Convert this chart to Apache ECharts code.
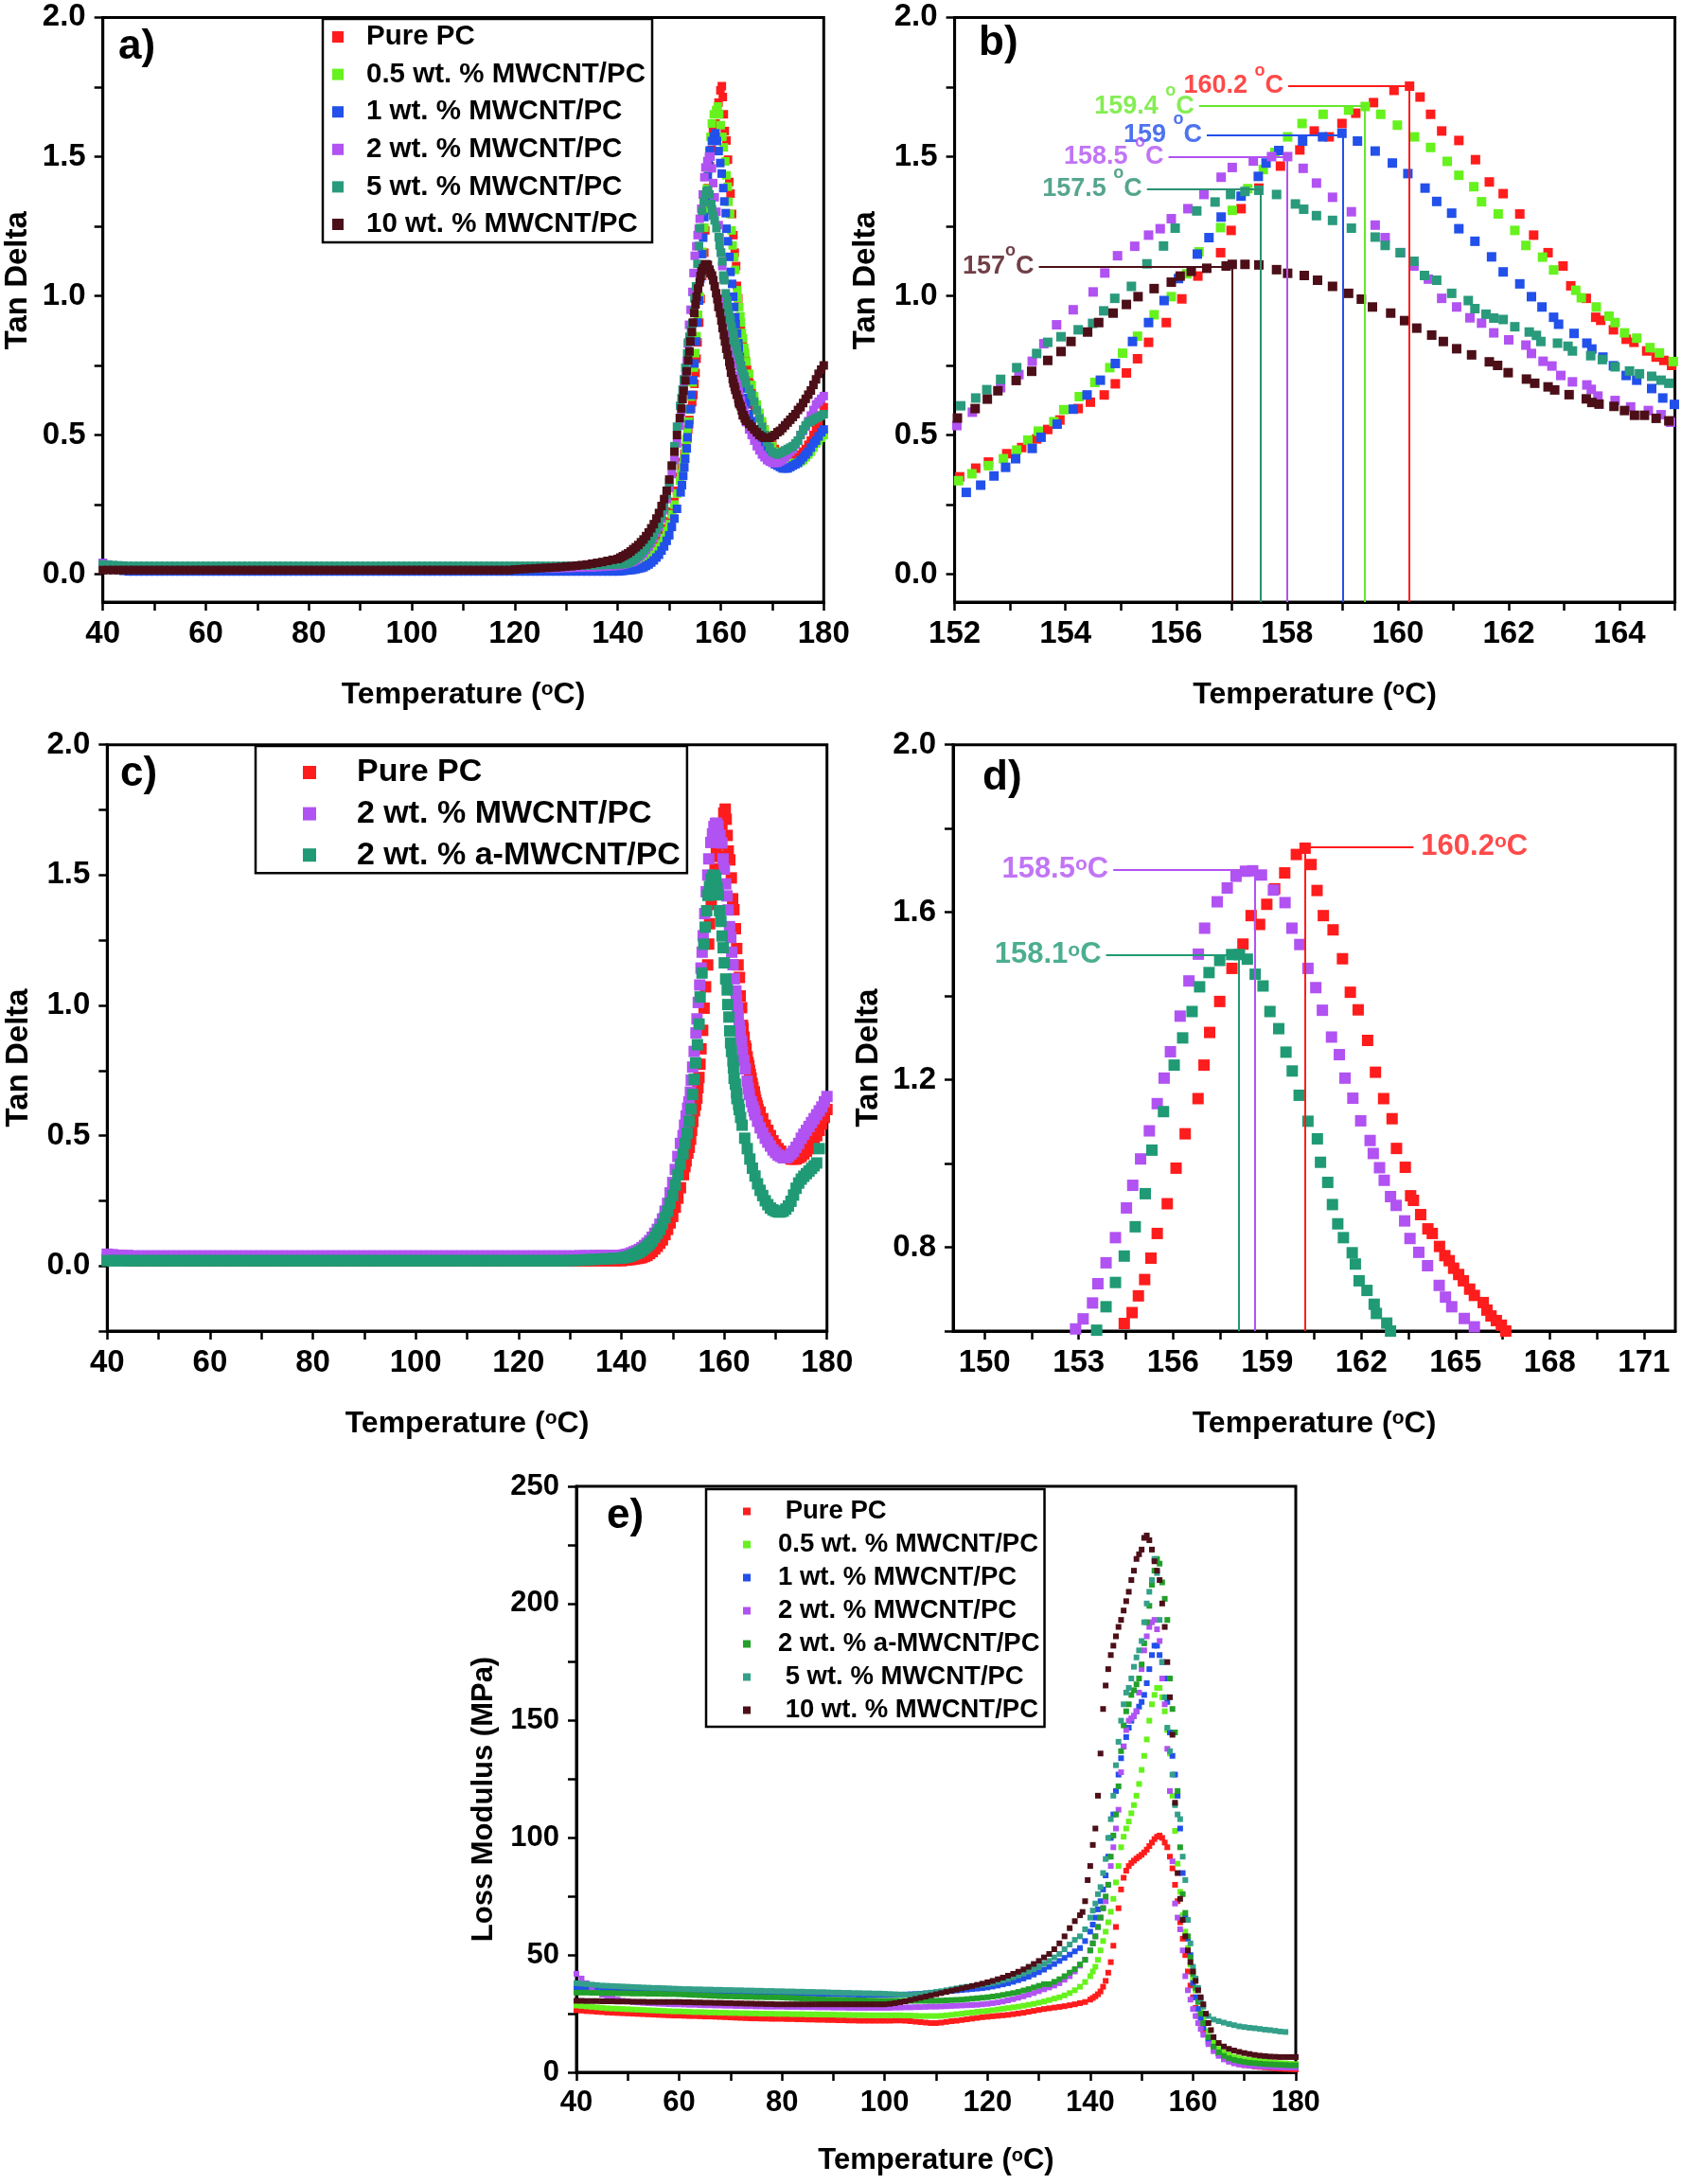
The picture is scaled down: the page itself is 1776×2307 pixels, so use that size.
<!DOCTYPE html>
<html><head><meta charset="utf-8">
<script src="https://cdn.jsdelivr.net/npm/echarts@6/dist/echarts.min.js"></script>
<style>html,body{margin:0;padding:0;background:#fff}#c{width:1776px;height:2307px}</style>
</head><body><div id="c"></div>
<script>
// ---------------- DATA ----------------
// Temperature grids (degC)
const tFlat = [
40,41,42,43,44,45,46,47,48,49,
50,51,52,53,54,55,56,57,58,59,
60,61,62,63,64,65,66,67,68,69,
70,71,72,73,74,75,76,77,78,79,
80,81,82,83,84,85,86,87,88,89,
90,91,92,93,94,95,96,97,98,99,
100,101,102,103,104,105,106,107,108,109,
110,111,112,113,114,115,116,117,118,119,
120,121,122,123,124,125,126,127,128,129,
130,131,132,133,134,135,136,137,138,139];
const tRise = [140,140.5,141,141.5,142,142.5,143,143.5,144,144.5,145,145.5,146,146.5,147,147.5,148,148.5,149,149.5,150,150.5,151,151.5];
const tTailA = [165.5,166,166.5,167,167.5,168,168.5,169,169.5,170,170.5,171,171.5,172,172.5,173,173.5,174,174.5,175,175.5,176,176.5,177,177.5,178,178.5,179,179.5,180];
const tTailRed = [167,167.5,168,168.5,169,169.5,170,170.5,171,171.5,172,172.5,173,173.5,174,174.5,175,175.5,176,176.5,177,177.5,178,178.5,179,179.5,180];
const tTailPC = [166,166.5,167,167.5,168,168.5,169,169.5,170,170.5,171,171.5,172,172.5,173,173.5,174,174.5,175,175.5,176,176.5,177,177.5,178,178.5,179,179.5,180];

// Tan delta, flat region 40-139
const redFlat = [
0.025,0.024,0.023,0.022,0.021,0.02,0.02,0.02,0.02,0.02,
0.02,0.02,0.02,0.02,0.02,0.02,0.02,0.02,0.02,0.02,
0.02,0.02,0.02,0.02,0.02,0.02,0.02,0.02,0.02,0.02,
0.02,0.02,0.02,0.02,0.02,0.02,0.02,0.02,0.02,0.02,
0.02,0.02,0.02,0.02,0.02,0.02,0.02,0.02,0.02,0.02,
0.02,0.02,0.02,0.02,0.02,0.02,0.02,0.02,0.02,0.02,
0.02,0.02,0.02,0.02,0.02,0.02,0.02,0.02,0.02,0.02,
0.02,0.02,0.02,0.02,0.02,0.02,0.02,0.02,0.02,0.02,
0.02,0.02,0.02,0.02,0.02,0.02,0.02,0.02,0.02,0.02,
0.02,0.02,0.02,0.02,0.02,0.02,0.02,0.02,0.02,0.02];
const greenFlat = [
0.03,0.029,0.028,0.027,0.026,0.025,0.025,0.025,0.025,0.025,
0.025,0.025,0.025,0.025,0.025,0.025,0.025,0.025,0.025,0.025,
0.025,0.025,0.025,0.025,0.025,0.025,0.025,0.025,0.025,0.025,
0.025,0.025,0.025,0.025,0.025,0.025,0.025,0.025,0.025,0.025,
0.025,0.025,0.025,0.025,0.025,0.025,0.025,0.025,0.025,0.025,
0.025,0.025,0.025,0.025,0.025,0.025,0.025,0.025,0.025,0.025,
0.025,0.025,0.025,0.025,0.025,0.025,0.025,0.025,0.025,0.025,
0.025,0.025,0.025,0.025,0.025,0.025,0.025,0.025,0.025,0.025,
0.025,0.025,0.025,0.025,0.025,0.025,0.025,0.025,0.025,0.025,
0.025,0.025,0.025,0.025,0.025,0.025,0.025,0.025,0.025,0.025];
const blueFlat = [
0.04,0.03,0.022,0.016,0.012,0.01,0.01,0.01,0.01,0.01,
0.01,0.01,0.01,0.01,0.01,0.01,0.01,0.01,0.01,0.01,
0.01,0.01,0.01,0.01,0.01,0.01,0.01,0.01,0.01,0.01,
0.01,0.01,0.01,0.01,0.01,0.01,0.01,0.01,0.01,0.01,
0.01,0.01,0.01,0.01,0.01,0.01,0.01,0.01,0.01,0.01,
0.01,0.01,0.01,0.01,0.01,0.01,0.01,0.01,0.01,0.01,
0.01,0.01,0.01,0.01,0.01,0.01,0.01,0.01,0.01,0.01,
0.01,0.01,0.01,0.01,0.01,0.01,0.01,0.01,0.01,0.01,
0.01,0.01,0.01,0.01,0.01,0.01,0.01,0.01,0.01,0.01,
0.01,0.01,0.01,0.01,0.01,0.01,0.01,0.01,0.01,0.01];
const purpleFlat = [
0.04,0.035,0.03,0.027,0.025,0.022,0.022,0.022,0.022,0.022,
0.022,0.022,0.022,0.022,0.022,0.022,0.022,0.022,0.022,0.022,
0.022,0.022,0.022,0.022,0.022,0.022,0.022,0.022,0.022,0.022,
0.022,0.022,0.022,0.022,0.022,0.022,0.022,0.022,0.022,0.022,
0.022,0.022,0.022,0.022,0.022,0.022,0.022,0.022,0.022,0.022,
0.022,0.022,0.022,0.022,0.022,0.022,0.022,0.022,0.022,0.022,
0.022,0.022,0.022,0.022,0.022,0.022,0.022,0.022,0.022,0.022,
0.022,0.022,0.022,0.022,0.022,0.022,0.022,0.022,0.022,0.022,
0.022,0.022,0.022,0.022,0.022,0.022,0.022,0.022,0.022,0.022,
0.023,0.023,0.024,0.024,0.025,0.025,0.026,0.027,0.028,0.029];
const tealFlat = [
0.035,0.034,0.033,0.032,0.031,0.03,0.03,0.03,0.03,0.03,
0.03,0.03,0.03,0.03,0.03,0.03,0.03,0.03,0.03,0.03,
0.03,0.03,0.03,0.03,0.03,0.03,0.03,0.03,0.03,0.03,
0.03,0.03,0.03,0.03,0.03,0.03,0.03,0.03,0.03,0.03,
0.03,0.03,0.03,0.03,0.03,0.03,0.03,0.03,0.03,0.03,
0.03,0.03,0.03,0.03,0.03,0.03,0.03,0.03,0.03,0.03,
0.03,0.03,0.03,0.03,0.03,0.03,0.03,0.03,0.03,0.03,
0.03,0.03,0.03,0.03,0.03,0.03,0.03,0.03,0.03,0.03,
0.03,0.03,0.03,0.03,0.03,0.03,0.03,0.03,0.03,0.03,
0.03,0.03,0.031,0.031,0.032,0.032,0.033,0.033,0.034,0.034];
const brownFlat = [
0.015,0.015,0.015,0.015,0.015,0.015,0.015,0.015,0.015,0.015,
0.015,0.015,0.015,0.015,0.015,0.015,0.015,0.015,0.015,0.015,
0.015,0.015,0.015,0.015,0.015,0.015,0.015,0.015,0.015,0.015,
0.015,0.015,0.015,0.015,0.015,0.015,0.015,0.015,0.015,0.015,
0.015,0.015,0.015,0.015,0.015,0.015,0.015,0.015,0.015,0.015,
0.015,0.015,0.015,0.015,0.015,0.015,0.015,0.015,0.015,0.015,
0.015,0.015,0.015,0.015,0.015,0.015,0.015,0.015,0.015,0.015,
0.015,0.015,0.015,0.015,0.015,0.015,0.015,0.015,0.015,0.015,
0.017,0.018,0.019,0.02,0.021,0.022,0.023,0.024,0.025,0.026,
0.028,0.029,0.031,0.033,0.035,0.038,0.041,0.044,0.048,0.052];
const purpleCFlat = [
0.045,0.043,0.041,0.04,0.04,0.038,0.038,0.038,0.038,0.038,
0.038,0.038,0.038,0.038,0.038,0.038,0.038,0.038,0.038,0.038,
0.038,0.038,0.038,0.038,0.038,0.038,0.038,0.038,0.038,0.038,
0.038,0.038,0.038,0.038,0.038,0.038,0.038,0.038,0.038,0.038,
0.038,0.038,0.038,0.038,0.038,0.038,0.038,0.038,0.038,0.038,
0.038,0.038,0.038,0.038,0.038,0.038,0.038,0.038,0.038,0.038,
0.038,0.038,0.038,0.038,0.038,0.038,0.038,0.038,0.038,0.038,
0.038,0.038,0.038,0.038,0.038,0.038,0.038,0.038,0.038,0.038,
0.038,0.038,0.038,0.038,0.038,0.038,0.038,0.038,0.038,0.038,
0.038,0.038,0.039,0.039,0.039,0.04,0.04,0.04,0.04,0.04];
const tealCFlat = [
0.02,0.02,0.02,0.02,0.02,0.02,0.02,0.02,0.02,0.02,
0.02,0.02,0.02,0.02,0.02,0.02,0.02,0.02,0.02,0.02,
0.02,0.02,0.02,0.02,0.02,0.02,0.02,0.02,0.02,0.02,
0.02,0.02,0.02,0.02,0.02,0.02,0.02,0.02,0.02,0.02,
0.02,0.02,0.02,0.02,0.02,0.02,0.02,0.02,0.02,0.02,
0.02,0.02,0.02,0.02,0.02,0.02,0.02,0.02,0.02,0.02,
0.02,0.02,0.02,0.02,0.02,0.02,0.02,0.02,0.02,0.02,
0.02,0.02,0.02,0.02,0.02,0.02,0.02,0.02,0.02,0.02,
0.02,0.02,0.02,0.02,0.02,0.02,0.02,0.02,0.02,0.02,
0.021,0.021,0.022,0.023,0.024,0.025,0.026,0.027,0.028,0.029];

// Tan delta, onset 140-151.5
const redRise = [0.02,0.022,0.023,0.024,0.025,0.027,0.028,0.03,0.032,0.036,0.04,0.047,0.055,0.065,0.075,0.087,0.1,0.12,0.14,0.165,0.19,0.225,0.26,0.3];
const greenRise = [0.025,0.025,0.025,0.026,0.026,0.027,0.028,0.03,0.032,0.035,0.038,0.044,0.05,0.06,0.07,0.082,0.095,0.11,0.13,0.155,0.18,0.215,0.25,0.29];
const blueRise = [0.01,0.011,0.012,0.013,0.014,0.015,0.016,0.018,0.02,0.022,0.025,0.03,0.035,0.042,0.05,0.06,0.07,0.085,0.1,0.12,0.14,0.17,0.2,0.235];
const purpleRise = [0.03,0.032,0.034,0.037,0.04,0.042,0.045,0.05,0.06,0.067,0.075,0.087,0.1,0.115,0.13,0.15,0.17,0.2,0.23,0.27,0.31,0.36,0.41,0.47];
const tealRise = [0.035,0.036,0.037,0.038,0.04,0.045,0.05,0.057,0.065,0.075,0.085,0.097,0.11,0.125,0.14,0.16,0.18,0.21,0.24,0.285,0.33,0.39,0.46,0.53];
const brownRise = [0.055,0.06,0.065,0.07,0.075,0.082,0.09,0.097,0.105,0.115,0.125,0.137,0.15,0.165,0.18,0.2,0.22,0.245,0.27,0.3,0.34,0.39,0.44,0.5];
const purpleCRise = [0.04,0.042,0.044,0.046,0.05,0.054,0.058,0.063,0.07,0.078,0.087,0.097,0.11,0.125,0.14,0.16,0.18,0.21,0.24,0.28,0.32,0.37,0.42,0.47];
const tealCRise = [0.03,0.032,0.034,0.036,0.04,0.044,0.048,0.053,0.06,0.067,0.075,0.085,0.095,0.11,0.125,0.14,0.16,0.185,0.21,0.24,0.27,0.31,0.35,0.39];

// Tan delta, peak region [T, value]
const redPeak = [[152.09,0.350],[152.38,0.381],[152.61,0.403],[152.94,0.433],[153.21,0.455],[153.48,0.486],[153.68,0.52],[153.9,0.554],[154.23,0.595],[154.45,0.618],[154.7,0.644],[154.9,0.684],[155.1,0.723],[155.3,0.774],[155.5,0.833],[155.82,0.904],[156.1,0.989],[156.39,1.071],[156.8,1.155],[156.99,1.235],[157.17,1.313],[157.49,1.387],[157.88,1.466],[158.23,1.524],[158.49,1.592],[158.76,1.571],[158.99,1.619],[159.24,1.656],[159.56,1.694],[159.93,1.738],[160.21,1.753],[160.4,1.714],[160.59,1.652],[160.79,1.592],[161.1,1.558],[161.4,1.489],[161.65,1.409],[161.9,1.367],[162.2,1.294],[162.45,1.218],[162.71,1.155],[162.98,1.107],[163.12,1.036],[163.4,0.991],[163.57,0.923],[163.66,0.912],[163.89,0.878],[164.12,0.844],[164.26,0.833],[164.49,0.802],[164.66,0.78],[164.8,0.768],[164.94,0.75],[165.1,0.735],[165.25,0.72],[165.45,0.7],[165.6,0.685],[165.88,0.668],[166.0,0.65],[166.13,0.636],[166.3,0.625],[166.46,0.614],[166.6,0.6]];
const greenPeak = [[152.07,0.336],[152.31,0.361],[152.61,0.39],[152.88,0.415],[153.12,0.446],[153.32,0.482],[153.51,0.514],[153.79,0.548],[153.97,0.591],[154.25,0.638],[154.53,0.689],[154.8,0.742],[155.03,0.794],[155.3,0.855],[155.6,0.932],[155.91,0.997],[156.19,1.079],[156.41,1.158],[156.8,1.245],[157.01,1.307],[157.29,1.385],[157.57,1.454],[157.78,1.515],[158.01,1.571],[158.27,1.619],[158.65,1.652],[159.11,1.667],[159.41,1.68],[159.69,1.652],[159.99,1.613],[160.3,1.571],[160.59,1.533],[160.89,1.483],[161.1,1.433],[161.37,1.392],[161.51,1.338],[161.81,1.294],[162.11,1.235],[162.31,1.181],[162.61,1.139],[162.81,1.093],[163.21,1.02],[163.31,0.993],[163.58,0.96],[163.81,0.927],[163.92,0.904],[164.09,0.867],[164.31,0.848],[164.55,0.814],[164.72,0.795],[164.97,0.764]];
const bluePeak = [[152.21,0.294],[152.47,0.32],[152.71,0.353],[152.92,0.384],[153.1,0.415],[153.4,0.452],[153.56,0.492],[153.85,0.539],[154.14,0.593],[154.39,0.644],[154.63,0.697],[154.9,0.757],[155.21,0.836],[155.5,0.904],[155.78,0.983],[156.04,1.062],[156.38,1.15],[156.59,1.209],[156.81,1.283],[157.17,1.358],[157.48,1.429],[157.62,1.477],[157.85,1.522],[158.28,1.556],[158.64,1.571],[158.99,1.584],[159.27,1.556],[159.59,1.52],[159.9,1.477],[160.18,1.439],[160.49,1.387],[160.7,1.339],[160.97,1.297],[161.1,1.241],[161.39,1.196],[161.69,1.14],[161.9,1.086],[162.2,1.043],[162.41,0.997],[162.6,0.96],[162.81,0.923],[162.9,0.898],[163.18,0.865],[163.41,0.83],[163.5,0.809],[163.7,0.78],[163.89,0.749],[164.12,0.714],[164.31,0.697],[164.58,0.667],[164.78,0.633],[164.99,0.61]];
const purplePeak = [[152.04,0.534],[152.32,0.582],[152.83,0.67],[153.16,0.717],[153.4,0.765],[153.61,0.828],[153.84,0.896],[154.14,0.95],[154.5,1.014],[154.71,1.082],[154.94,1.144],[155.25,1.178],[155.5,1.218],[155.71,1.241],[155.91,1.277],[156.21,1.313],[156.5,1.364],[156.81,1.426],[157.01,1.461],[157.39,1.484],[157.72,1.5],[158.01,1.5],[158.29,1.458],[158.53,1.405],[158.82,1.354],[159.16,1.302],[159.59,1.254],[159.77,1.209],[160.05,1.155],[160.29,1.107],[160.55,1.06],[160.79,0.991],[161.06,0.96],[161.3,0.921],[161.51,0.902],[161.73,0.867],[162.0,0.842],[162.31,0.823],[162.41,0.793],[162.62,0.765],[162.78,0.748],[162.94,0.714],[163.15,0.691],[163.41,0.68],[163.49,0.664],[163.61,0.64],[163.92,0.624],[164.2,0.601],[164.52,0.588],[164.75,0.573],[164.92,0.546]];
const tealPeak = [[152.11,0.605],[152.38,0.633],[152.58,0.663],[152.83,0.7],[153.12,0.742],[153.48,0.793],[153.68,0.833],[153.92,0.853],[154.23,0.878],[154.49,0.901],[154.69,0.946],[154.89,0.991],[155.19,1.034],[155.47,1.115],[155.77,1.179],[155.98,1.243],[156.37,1.305],[156.7,1.337],[156.98,1.364],[157.24,1.375],[157.49,1.379],[157.81,1.364],[158.15,1.33],[158.3,1.311],[158.53,1.288],[158.82,1.271],[159.16,1.243],[159.59,1.211],[159.77,1.181],[160.04,1.155],[160.29,1.124],[160.48,1.073],[160.7,1.056],[160.97,1.009],[161.27,0.983],[161.39,0.954],[161.59,0.934],[161.73,0.92],[161.9,0.915],[162.11,0.889],[162.37,0.87],[162.5,0.858],[162.58,0.836],[162.88,0.83],[163.07,0.819],[163.15,0.802],[163.48,0.785],[163.69,0.771],[163.92,0.745],[164.18,0.73],[164.36,0.72],[164.58,0.711],[164.75,0.697],[164.89,0.686]];
const brownPeak = [[152.05,0.561],[152.37,0.595],[152.59,0.629],[152.78,0.659],[153.11,0.696],[153.39,0.729],[153.68,0.768],[153.92,0.8],[154.1,0.836],[154.4,0.87],[154.6,0.904],[154.86,0.938],[155.1,0.969],[155.31,0.997],[155.6,1.026],[155.91,1.049],[156.07,1.071],[156.27,1.088],[156.55,1.099],[156.9,1.107],[157.01,1.113],[157.24,1.113],[157.49,1.111],[157.81,1.094],[158.01,1.081],[158.31,1.073],[158.55,1.056],[158.82,1.034],[159.11,1.009],[159.34,0.988],[159.54,0.96],[159.87,0.938],[160.12,0.911],[160.34,0.884],[160.61,0.859],[160.82,0.836],[161.06,0.81],[161.33,0.788],[161.65,0.763],[161.8,0.75],[161.99,0.724],[162.32,0.701],[162.47,0.686],[162.71,0.673],[162.83,0.662],[163.09,0.645],[163.4,0.63],[163.5,0.617],[163.63,0.611],[163.9,0.603],[164.09,0.588],[164.27,0.571],[164.45,0.571],[164.66,0.56],[164.89,0.551]];
const purpleCPeak = [[152.0,0.5],[152.3,0.54],[152.6,0.575],[152.9,0.605],[153.14,0.629],[153.44,0.667],[153.61,0.713],[153.87,0.763],[154.17,0.823],[154.52,0.894],[154.72,0.948],[154.97,1.011],[155.25,1.078],[155.5,1.143],[155.72,1.204],[155.92,1.267],[156.23,1.352],[156.51,1.436],[156.81,1.5],[157.01,1.562],[157.41,1.625],[157.73,1.658],[158.01,1.686],[158.31,1.698],[158.54,1.699],[158.82,1.689],[159.2,1.653],[159.57,1.623],[159.79,1.562],[160.04,1.523],[160.3,1.466],[160.55,1.42],[160.76,1.366],[161.05,1.302],[161.3,1.26],[161.48,1.204],[161.73,1.156],[161.98,1.102],[162.28,1.055],[162.38,1.024],[162.58,0.99],[162.73,0.96],[162.93,0.921],[163.11,0.9],[163.38,0.863],[163.55,0.821],[163.83,0.788],[164.11,0.756],[164.48,0.709],[164.68,0.681],[164.88,0.658],[165.28,0.63],[165.6,0.61],[165.85,0.595]];
const tealCPeak = [[152.0,0.43],[152.4,0.47],[152.8,0.51],[153.2,0.555],[153.57,0.602],[153.87,0.658],[154.17,0.716],[154.45,0.779],[154.8,0.849],[155.12,0.928],[155.33,1.032],[155.7,1.124],[156.04,1.235],[156.31,1.3],[156.61,1.363],[156.85,1.422],[157.15,1.456],[157.49,1.485],[157.87,1.499],[158.12,1.499],[158.37,1.488],[158.62,1.452],[158.87,1.424],[159.09,1.363],[159.37,1.322],[159.6,1.266],[159.8,1.221],[160.02,1.163],[160.3,1.101],[160.6,1.059],[160.7,1.003],[160.93,0.955],[161.08,0.902],[161.25,0.856],[161.43,0.823],[161.71,0.787],[161.81,0.76],[161.93,0.72],[162.18,0.697],[162.41,0.664],[162.48,0.642],[162.81,0.619],[162.93,0.6]];

// Tan delta, tails after the peak
const redTail = [0.59,0.565,0.54,0.52,0.5,0.48,0.465,0.45,0.44,0.43,0.42,0.415,0.41,0.41,0.41,0.415,0.42,0.43,0.44,0.45,0.465,0.48,0.5,0.52,0.545,0.57,0.6];
const greenTail = [0.72,0.68,0.64,0.61,0.58,0.55,0.52,0.5,0.48,0.46,0.44,0.43,0.42,0.41,0.4,0.4,0.395,0.395,0.4,0.4,0.405,0.41,0.42,0.43,0.44,0.455,0.47,0.48,0.49,0.5];
const blueTail = [0.575,0.55,0.52,0.5,0.48,0.46,0.445,0.43,0.415,0.405,0.395,0.39,0.385,0.38,0.38,0.38,0.385,0.39,0.395,0.4,0.41,0.42,0.43,0.44,0.455,0.47,0.48,0.495,0.51,0.52];
const purpleTail = [0.52,0.5,0.48,0.46,0.445,0.43,0.42,0.41,0.405,0.4,0.4,0.4,0.405,0.41,0.42,0.43,0.44,0.45,0.465,0.48,0.5,0.515,0.53,0.55,0.57,0.59,0.61,0.62,0.63,0.64];
const tealTail = [0.665,0.645,0.62,0.59,0.56,0.53,0.5,0.475,0.455,0.44,0.435,0.43,0.435,0.44,0.445,0.45,0.455,0.46,0.47,0.48,0.5,0.52,0.535,0.545,0.55,0.555,0.56,0.565,0.57,0.575];
const brownTail = [0.54,0.53,0.52,0.51,0.5,0.495,0.49,0.49,0.49,0.495,0.5,0.51,0.515,0.525,0.535,0.545,0.555,0.565,0.575,0.59,0.6,0.615,0.63,0.645,0.66,0.68,0.7,0.72,0.735,0.75];
const purpleCTail = [0.58,0.555,0.53,0.51,0.49,0.475,0.46,0.445,0.435,0.425,0.42,0.415,0.415,0.42,0.43,0.44,0.455,0.47,0.49,0.505,0.52,0.535,0.55,0.565,0.58,0.595,0.61,0.63,0.65];
const tealCTail = [[163.2,0.57],[163.5,0.54],[164,0.49],[164.5,0.45],[165,0.41],[165.5,0.375],[166,0.345],[166.5,0.315],[167,0.29],[167.5,0.27],[168,0.25],[168.5,0.235],[169,0.222],[169.5,0.215],[170,0.21],[170.5,0.207],[171,0.207],[171.5,0.21],[172,0.218],[172.5,0.23],[173,0.248],[173.5,0.272],[174,0.298],[174.5,0.318],[175,0.333],[175.5,0.344],[176,0.354],[176.5,0.364],[177,0.374],[177.5,0.384],[178,0.395],[178.5,0.45]];

// Peak annotations (T of peak, tan delta, arrow tip T, text)
const annB = [
  {t:160.2, v:1.754, tip:158.02, txt:'160.2 ', key:'red'},
  {t:159.4, v:1.681, tip:156.41, txt:'159.4 ', key:'limeT'},
  {t:159.0, v:1.578, tip:156.55, txt:'159 ', key:'blue'},
  {t:158.0, v:1.499, tip:155.86, txt:'158.5 ', key:'purple'},
  {t:157.52, v:1.385, tip:155.47, txt:'157.5 ', key:'tealT'},
  {t:157.0, v:1.106, tip:153.52, txt:'157', key:'brown'}
];
const annD = [
  {t:160.2, v:1.756, tip:163.66, txt:'160.2', key:'red', dir:'right'},
  {t:158.6, v:1.702, tip:154.1, txt:'158.5', key:'purple', dir:'left'},
  {t:158.11, v:1.498, tip:153.87, txt:'158.1', key:'tealC', dir:'left'}
];

// Loss modulus (MPa), low region 40-131
const tFlatE = [
40,41,42,43,44,45,46,47,48,49,
50,51,52,53,54,55,56,57,58,59,
60,61,62,63,64,65,66,67,68,69,
70,71,72,73,74,75,76,77,78,79,
80,81,82,83,84,85,86,87,88,89,
90,91,92,93,94,95,96,97,98,99,
100,101,102,103,104,105,106,107,108,109,
110,111,112,113,114,115,116,117,118,119,
120,121,122,123,124,125,126,127,128,129,
130,131];
const redE1 = [
26.5,26.3,26.1,26,25.8,25.7,25.5,25.4,25.3,25.2,
25.1,25,24.9,24.8,24.7,24.6,24.5,24.4,24.3,24.2,
24.2,24.1,24,24,23.9,23.8,23.8,23.7,23.6,23.5,
23.4,23.3,23.2,23.1,23,23,22.9,22.9,22.8,22.8,
22.8,22.7,22.7,22.6,22.6,22.5,22.5,22.4,22.4,22.3,
22.3,22.2,22.2,22.1,22.1,22,22,22,22,22,
22,22,22.1,22.1,22,21.8,21.6,21.4,21.2,21,
21,21.2,21.5,21.8,22,22.3,22.6,22.9,23.2,23.5,
23.7,23.9,24.1,24.3,24.5,24.8,25.1,25.4,25.8,26.2,
26.6,27];
const limeE1 = [
28.5,28.3,28.1,27.9,27.7,27.5,27.3,27.2,27.1,27,
26.9,26.8,26.7,26.6,26.5,26.4,26.3,26.2,26.1,26,
26,25.9,25.8,25.7,25.7,25.6,25.5,25.5,25.4,25.4,
25.3,25.3,25.2,25.2,25.1,25.1,25,25,25,24.9,
24.9,24.9,24.8,24.8,24.8,24.7,24.7,24.7,24.6,24.6,
24.6,24.5,24.5,24.5,24.4,24.4,24.4,24.3,24.3,24.3,
24.3,24.3,24.3,24.3,24.2,24.2,24.1,24,24,24,
24,24.1,24.3,24.5,24.8,25,25.3,25.5,25.8,26,
26.2,26.5,26.8,27.1,27.4,27.7,28,28.4,28.8,29.2,
29.7,30.2];
const blueE1 = [
36,35.9,35.8,35.7,35.6,35.5,35.5,35.4,35.4,35.3,
35.3,35.2,35.2,35.1,35.1,35,35,35,34.9,34.9,
34.9,34.8,34.8,34.7,34.7,34.6,34.6,34.5,34.5,34.4,
34.4,34.3,34.3,34.2,34.2,34.1,34.1,34,34,33.9,
33.9,33.8,33.8,33.7,33.7,33.6,33.6,33.5,33.5,33.4,
33.4,33.3,33.3,33.2,33.2,33.1,33.1,33,33,33,
33,33,33,33.1,33.2,33.3,33.4,33.5,33.7,33.9,
34.1,34.3,34.5,34.7,34.9,35.1,35.3,35.5,35.7,35.9,
36.2,36.6,37,37.5,38,38.6,39.3,40,40.8,41.7,
42.7,43.8];
const purpleE1 = [
42,40,38,36,34,33,32,31.5,31,30.5,
30.2,30,29.8,29.6,29.5,29.4,29.3,29.2,29.1,29,
29,28.9,28.8,28.8,28.7,28.6,28.6,28.5,28.5,28.4,
28.4,28.3,28.3,28.2,28.2,28.1,28.1,28,28,28,
28,27.9,27.9,27.9,27.8,27.8,27.8,27.7,27.7,27.7,
27.6,27.6,27.6,27.5,27.5,27.5,27.5,27.5,27.5,27.5,
27.5,27.5,27.6,27.6,27.7,27.7,27.8,27.8,27.9,28,
28,28.1,28.2,28.3,28.4,28.5,28.6,28.7,28.8,29,
29.2,29.5,29.8,30.2,30.7,31.2,31.8,32.4,33.1,33.8,
34.6,35.4];
const greenE1 = [
34,34,34,33.9,33.9,33.8,33.8,33.8,33.7,33.7,
33.7,33.6,33.6,33.6,33.5,33.5,33.5,33.4,33.4,33.4,
33.3,33.2,33.1,33,32.9,32.8,32.7,32.6,32.5,32.4,
32.4,32.3,32.3,32.2,32.2,32.1,32.1,32,32,32,
31.9,31.8,31.7,31.6,31.5,31.4,31.3,31.2,31.1,31,
31,30.9,30.9,30.8,30.8,30.7,30.7,30.6,30.6,30.5,
30.5,30.5,30.5,30.5,30.5,30.5,30.5,30.5,30.5,30.5,
30.5,30.6,30.7,30.8,30.9,31,31.2,31.4,31.6,31.8,
32,32.3,32.6,33,33.4,33.8,34.3,34.9,35.5,36.2,
36.9,37.6];
const tealE1 = [
38,37.8,37.6,37.4,37.2,37,36.9,36.8,36.7,36.6,
36.5,36.4,36.3,36.2,36.1,36,36,35.9,35.8,35.7,
35.6,35.5,35.5,35.4,35.4,35.3,35.3,35.2,35.2,35.1,
35.1,35,35,34.9,34.9,34.8,34.8,34.7,34.7,34.6,
34.6,34.5,34.5,34.4,34.4,34.3,34.3,34.2,34.2,34.1,
34,34,33.9,33.9,33.8,33.8,33.7,33.7,33.6,33.6,
33.5,33.4,33.3,33.2,33.1,33,33.2,33.4,33.7,34,
34.3,34.6,35,35.4,35.8,36.2,36.5,36.8,37.1,37.4,
37.7,38.1,38.6,39.2,39.8,40.5,41.3,42.1,43,44,
45,46.3];
const brownE1 = [
30.5,30.5,30.4,30.4,30.4,30.3,30.3,30.3,30.2,30.2,
30.2,30.1,30.1,30.1,30,30,30,30,30,30,
30,29.9,29.9,29.8,29.8,29.7,29.7,29.6,29.6,29.5,
29.5,29.4,29.4,29.3,29.3,29.2,29.2,29.1,29.1,29,
29,29,29,29,29,29,29,29,29,29,
29,29,29,29,29,29,29,29,29,29,
29,29.2,29.5,29.9,30.3,30.8,31.3,31.8,32.3,32.8,
33.3,33.8,34.3,34.8,35.3,35.8,36.3,36.8,37.3,37.8,
38.4,39,39.7,40.4,41.2,42,42.9,43.9,45,46.2,
47.5,49];

// Loss modulus (MPa), 132-180 [T, value]
const redE2 = [[132,27.3],[133,27.6],[134,27.9],[135,28.2],[136,28.6],[137,29],[138,29.5],[139,30],[140,31],[140.5,31.7],[141,32.4],[141.5,33.3],[142,34.5],[142.5,36.5],[143,39],[143.5,42.5],[144,47],[144.5,54],[145,62],[145.5,70],[146,78],[146.5,83],[147,86],[147.5,88],[148,89.3],[148.5,90.3],[149,91.2],[149.5,92],[150,92.8],[150.5,93.8],[151,95],[151.5,96.5],[152,98],[152.5,99.5],[153,100.5],[153.5,101],[154,100],[154.5,98],[155,96],[155.5,92],[156,87],[156.5,80],[157,73],[157.5,64],[158,57],[158.5,50],[159,43],[159.5,37],[160,32],[160.5,27.5],[161,24],[161.5,21],[162,18],[163,13],[164,10],[165,8],[166,6.5],[167,5],[168,4.2],[169,3.6],[170,3.1],[171,2.8],[172,2.5],[173,2.3],[174,2.1],[175,1.9],[176,1.7],[177,1.5],[178,1.4],[179,1.3],[180,1.2]];
const limeE2 = [[132,30.8],[133,31.4],[134,32],[135,32.8],[136,33.8],[137,35],[138,36.5],[139,38.5],[140,41],[140.5,43],[141,45],[141.5,48],[142,52],[142.5,56],[143,60],[143.5,64],[144,68.5],[144.5,74],[145,81],[145.5,88],[146,96],[146.5,100.5],[147,104],[147.5,107],[148,110.5],[148.5,114],[149,118],[149.5,123],[150,129],[150.5,135],[151,142],[151.5,150],[152,157],[152.5,161],[153,164],[153.5,164],[154,160],[154.5,154],[155,146],[155.5,136],[156,118],[156.5,103],[157,89],[157.5,77],[158,67],[158.5,60],[159,53],[159.5,46],[160,40],[160.5,35],[161,31],[161.5,27],[162,23],[163,17.6],[164,13],[165,10],[166,8.5],[167,7.5],[168,6.6],[169,6],[170,5.5],[171,5.2],[172,5],[173,4.8],[174,4.5],[175,4.3],[176,4.1],[177,3.9],[178,3.8],[179,3.6],[180,3.5]];
const blueE2 = [[132,45],[133,46.2],[134,47.5],[135,48.8],[136,50.2],[137,51.6],[138,53],[139,56],[140,60],[140.5,63],[141,66],[141.5,69.5],[142,73],[142.5,78],[143,84],[143.5,92],[144,100],[144.5,110],[145,120],[145.5,127],[146,134],[146.5,139],[147,143],[147.5,147],[148,150],[148.5,152],[149,154],[149.5,156],[150,158],[150.5,161],[151,166],[151.5,172],[152,178],[152.5,182],[153,182],[153.5,178],[154,175],[154.5,168],[155,158],[155.5,145],[156,135],[156.5,127],[157,118],[157.5,104],[158,85],[158.5,66],[159,57],[159.5,50],[160,38],[160.5,32],[161,27],[161.5,23],[162,19],[163,14],[164,10.5],[165,8],[166,6.5],[167,5.5],[168,4.8],[169,4.3],[170,4],[171,3.8],[172,3.6],[173,3.4],[174,3.2],[175,3.1],[176,3],[177,2.9],[178,2.8],[179,2.7],[180,2.6]];
const purpleE2 = [[132,36.2],[133,37],[134,38],[135,39.5],[136,41],[137,43],[138,45.5],[139,48],[140,52],[140.5,55],[141,58],[141.5,62],[142,66],[142.5,70],[143,73],[143.5,80],[144,88],[144.5,96],[145,104],[145.5,112],[146,128],[146.5,139],[147,146],[147.5,150],[148,151],[148.5,152],[149,154],[149.5,162],[150,172],[150.5,180],[151,186],[151.5,190],[152,192],[152.5,193],[153,189],[153.5,184],[154,168],[154.5,157],[155,138],[155.5,120],[156,90],[156.5,72],[157,66],[157.5,61],[158,52],[158.5,41],[159,35],[159.5,31],[160,27],[160.5,24],[161,21],[161.5,18.5],[162,16],[163,12],[164,9],[165,7],[166,5.5],[167,4.5],[168,3.8],[169,3.3],[170,3],[171,2.8],[172,2.6],[173,2.5],[174,2.4],[175,2.3],[176,2.2],[177,2.1],[178,2],[179,2],[180,2]];
const greenE2 = [[132,37.6],[133,38.6],[134,39.7],[135,41],[136,42.5],[137,44],[138,46],[139,48],[140,52],[140.5,55],[141,58],[141.5,62],[142,66],[142.5,70],[143,75],[143.5,80],[144,92],[144.5,101],[145,110],[145.5,122],[146,137],[146.5,148],[147,154],[147.5,157],[148,161],[148.5,163],[149,165.5],[149.5,168],[150,174],[150.5,183],[151,192],[151.5,199],[152,208],[152.5,214],[153,219],[153.5,217],[154,209],[154.5,202],[155,193],[155.5,168],[156,155],[156.5,145],[157,120],[157.5,96],[158,76],[158.5,68],[159,58],[159.5,49],[160,42],[160.5,36],[161,30],[161.5,25],[162,21],[163,15],[164,11],[165,8.5],[166,7],[167,6],[168,5.3],[169,4.8],[170,4.4],[171,4.1],[172,3.9],[173,3.7],[174,3.5],[175,3.4],[176,3.3],[177,3.2],[178,3.1],[179,3],[180,3]];
const tealE2 = [[132,47.5],[133,49],[134,50.5],[135,52.5],[136,54.5],[137,56.5],[138,58],[139,61],[140,66],[140.5,69],[141,72],[141.5,76],[142,79],[142.5,85],[143,91],[143.5,100],[144,108],[144.5,118],[145,131],[145.5,141],[146,150],[146.5,157],[147,162],[147.5,164],[148,168],[148.5,173],[149,177],[149.5,180],[150,184],[150.5,192],[151,200],[151.5,205],[152,210],[152.5,219],[153,213],[153.5,193],[154,175],[154.5,160],[155,147],[155.5,137],[156,127],[156.5,114],[157,110],[157.5,108],[158,92],[158.5,82],[159,65],[159.5,55],[160,45],[160.5,40],[161,36],[161.5,31],[162,28],[163,24],[164,22.5],[165,21.8],[166,21.2],[167,20.6],[168,20.1],[169,19.6],[170,19.3],[171,19],[172,18.8],[173,18.5],[174,18.2],[175,18],[176,17.7],[177,17.4],[178,17.2]];
const brownE2 = [[132,50.5],[133,52.5],[134,55],[135,58],[136,61.5],[137,64.5],[138,67],[138.5,68.4],[139,73],[139.5,82],[140,88],[140.5,97],[141,104],[141.5,118],[142,136],[142.5,155],[143,165],[143.5,172],[144,178],[144.5,182],[145,186],[145.5,190],[146,193],[146.5,197],[147,201],[147.5,205],[148,210],[148.5,214],[149,219],[149.5,221],[150,223],[150.5,228],[151,229],[151.5,227],[152,223],[152.5,218],[153,214],[153.5,210],[154,200],[154.5,190],[155,175],[155.5,160],[156,144],[156.5,115],[157,85],[157.5,74],[158,65],[158.5,58],[159,52],[159.5,47],[160,43],[160.5,39],[161,35],[161.5,32],[162,29],[162.5,25],[163,21],[163.5,18],[164,15],[165,12.5],[166,11],[167,10],[168,9.3],[169,8.7],[170,8.2],[171,7.8],[172,7.4],[173,7.1],[174,6.9],[175,6.7],[176,6.6],[177,6.5],[178,6.5],[179,6.5],[180,6.5]];

// Legend labels
const namesA = ['Pure PC','0.5 wt. % MWCNT/PC','1 wt. % MWCNT/PC','2 wt. % MWCNT/PC','5 wt. % MWCNT/PC','10 wt. % MWCNT/PC'];
const namesC = ['Pure PC','2 wt. % MWCNT/PC','2 wt. % a-MWCNT/PC'];
const namesE = [' Pure PC','0.5 wt. % MWCNT/PC\u200b','1 wt. % MWCNT/PC\u200b','2 wt. % MWCNT/PC\u200b','2 wt. % a-MWCNT/PC\u200b',' 5 wt. % MWCNT/PC',' 10 wt. % MWCNT/PC'];

// Axis tick values
const yTicksAB = [0,0.25,0.5,0.75,1,1.25,1.5,1.75,2];
const yLabelsAB = [0,0.5,1,1.5,2];
const xTicksD = [150,151.5,153,154.5,156,157.5,159,160.5,162,163.5,165,166.5,168,169.5,171];
const xLabelsD = [150,153,156,159,162,165,168,171];

// ---------------- STYLE ----------------
const FONT = '"Liberation Sans", Arial, Helvetica, sans-serif';
const COL = {red:'#ff1c1c', lime:'#66f21c', blue:'#2250ea', purple:'#b152f2', teal:'#2a9a7c',
  brown:'#4c0f18', green:'#22a02a', tealE:'#34a08a', tealC:'#1f9a74', limeT:'#66e82a', tealT:'#2a8f72'};

const grids = [
  {left:108.7, top:18.4, width:761.6, height:617.6},
  {left:1008.6, top:18.4, width:761, height:617.6},
  {left:113.3, top:786.7, width:760.4, height:619.3},
  {left:1007, top:786.7, width:763, height:619.3},
  {left:609, top:1570, width:760, height:619}
].map(g => Object.assign({show:true, borderColor:'#000', borderWidth:3, backgroundColor:'rgba(0,0,0,0)'}, g));

function pts(ts, vs) { return ts.map((t, i) => [t, vs[i]]); }

function nameStyle(fs, pad) {
  const s = Math.round(fs*0.66);
  return {color:'#000', fontSize:fs, fontWeight:'bold', fontFamily:FONT, padding:pad || 0,
    rich:{s:{fontSize:s, lineHeight:Math.round(s*0.7), fontWeight:'bold', fontFamily:FONT, color:'#000', verticalAlign:'top'}}};
}
function axis(gi, o) {
  return {
    type:'value', gridIndex:gi, min:o.min, max:o.max, interval:o.interval,
    name:o.name, nameLocation:'middle', nameGap:o.nameGap, nameTextStyle:nameStyle(o.nameSize, o.namePad),
    axisLine:{show:true, onZero:false, lineStyle:{color:'#000', width:3}},
    axisTick:Object.assign({show:true, inside:false, length:9, lineStyle:{color:'#000', width:2.5}}, o.tick || {}),
    axisLabel:Object.assign({show:true, color:'#000', fontSize:o.labelSize, fontWeight:'bold', fontFamily:FONT, margin:o.margin, showMinLabel:true, showMaxLabel:true}, o.label || {}),
    splitLine:{show:false}, minorTick:{show:false}
  };
}
const TNAME = 'Temperature ({s|o}C)';
const every20 = v => (Math.round(v) % 20 === 0 ? String(Math.round(v)) : '');

const xAxes = [
  axis(0, {min:40, max:180, interval:10, name:TNAME, nameGap:82, nameSize:32, labelSize:33, margin:17, label:{formatter:every20}}),
  axis(1, {min:152, max:165, interval:1, name:TNAME, nameGap:82, nameSize:32, labelSize:33, margin:17, label:{formatter:v => (Math.round(v) % 2 === 0 ? String(Math.round(v)) : '')}}),
  axis(2, {min:40, max:180, interval:10, name:TNAME, nameGap:82, nameSize:32, labelSize:33, margin:17, label:{formatter:every20}}),
  axis(3, {min:149, max:172, name:TNAME, nameGap:82, nameSize:32, labelSize:33, margin:17, tick:{customValues:xTicksD}, label:{customValues:xLabelsD, formatter:v => String(Math.round(v))}}),
  axis(4, {min:40, max:180, interval:10, name:TNAME, nameGap:78, nameSize:31, labelSize:31, margin:17, label:{formatter:every20}})
];
const yAxes = [
  axis(0, {min:-0.1, max:2, name:'Tan Delta', nameGap:73, nameSize:33, namePad:[0,0,0,62], labelSize:33, margin:18, tick:{customValues:yTicksAB}, label:{customValues:yLabelsAB, formatter:v => v.toFixed(1)}}),
  axis(1, {min:-0.1, max:2, name:'Tan Delta', nameGap:77, nameSize:33, namePad:[0,0,0,62], labelSize:33, margin:18, tick:{customValues:yTicksAB}, label:{customValues:yLabelsAB, formatter:v => v.toFixed(1)}}),
  axis(2, {min:-0.25, max:2, interval:0.25, name:'Tan Delta', nameGap:77, nameSize:33, namePad:[0,42,0,0], labelSize:33, margin:18, label:{formatter:v => { const r = Math.round(v*100); return (r >= 0 && r % 50 === 0) ? (r/100).toFixed(1) : ''; }}}),
  axis(3, {min:0.6, max:2, interval:0.2, name:'Tan Delta', nameGap:73, nameSize:33, namePad:[0,42,0,0], labelSize:33, margin:18, label:{formatter:v => { const r = Math.round(v*10); return (r >= 8 && r % 4 === 0) ? (r/10).toFixed(1) : ''; }}}),
  axis(4, {min:0, max:250, interval:25, name:'Loss Modulus (MPa)', nameGap:82, nameSize:31, namePad:[0,42,0,0], labelSize:31, margin:18, label:{formatter:v => (Math.round(v) % 50 === 0 ? String(Math.round(v)) : '')}})
];

function sc(name, data, gi, color, size) {
  return {type:'scatter', name, data, xAxisIndex:gi, yAxisIndex:gi, symbol:'rect', symbolSize:size,
    itemStyle:{color, opacity:1}, clip:true, silent:true, animation:false, emphasis:{disabled:true}};
}

// full tan-delta series
const redAll = [...pts(tFlat, redFlat), ...pts(tRise, redRise), ...redPeak, ...pts(tTailRed, redTail)];
const greenAll = [...pts(tFlat, greenFlat), ...pts(tRise, greenRise), ...greenPeak, ...pts(tTailA, greenTail)];
const blueAll = [...pts(tFlat, blueFlat), ...pts(tRise, blueRise), ...bluePeak, ...pts(tTailA, blueTail)];
const purpleAll = [...pts(tFlat, purpleFlat), ...pts(tRise, purpleRise), ...purplePeak, ...pts(tTailA, purpleTail)];
const tealAll = [...pts(tFlat, tealFlat), ...pts(tRise, tealRise), ...tealPeak, ...pts(tTailA, tealTail)];
const brownAll = [...pts(tFlat, brownFlat), ...pts(tRise, brownRise), ...brownPeak, ...pts(tTailA, brownTail)];
const purpleCAll = [...pts(tFlat, purpleCFlat), ...pts(tRise, purpleCRise), ...purpleCPeak, ...pts(tTailPC, purpleCTail)];
const tealCAll = [...pts(tFlat, tealCFlat), ...pts(tRise, tealCRise), ...tealCPeak, ...tealCTail];

const setA = [[redAll, COL.red], [greenAll, COL.lime], [blueAll, COL.blue], [purpleAll, COL.purple], [tealAll, COL.teal], [brownAll, COL.brown]];
const setC = [[redAll, COL.red], [purpleCAll, COL.purple], [tealCAll, COL.tealC]];
const setE = [
  [[...pts(tFlatE, redE1), ...redE2], COL.red],
  [[...pts(tFlatE, limeE1), ...limeE2], COL.lime],
  [[...pts(tFlatE, blueE1), ...blueE2], COL.blue],
  [[...pts(tFlatE, purpleE1), ...purpleE2], COL.purple],
  [[...pts(tFlatE, greenE1), ...greenE2], COL.green],
  [[...pts(tFlatE, tealE1), ...tealE2], COL.tealE],
  [[...pts(tFlatE, brownE1), ...brownE2], COL.brown]
];

const series = [];
setA.forEach((s, i) => series.push(sc(namesA[i], s[0], 0, s[1], 9)));
setA.forEach((s, i) => series.push(sc(namesA[i], s[0], 1, s[1], 10)));
setC.forEach((s, i) => series.push(sc(namesC[i], s[0], 2, s[1], 12)));
setC.forEach((s, i) => series.push(sc(namesC[i], s[0], 3, s[1], 12)));
setE.forEach((s, i) => series.push(sc(namesE[i], s[0], 4, s[1], 6)));

// supRatio / lineHeight ratios control how high the small "o" sits
function ann(gi, a, ymin, fs, supRatio, lhRatio, supLh) {
  const color = COL[a.key];
  const s = Math.round(fs*supRatio);
  return {
    type:'scatter', xAxisIndex:gi, yAxisIndex:gi, data:[[a.tip, a.v]], symbolSize:0, silent:true, animation:false,
    label:{show:true, position:a.dir || 'left', distance:a.dir === 'right' ? 8 : 5, color, fontSize:fs, fontWeight:'bold', fontFamily:FONT,
      lineHeight:Math.round(fs*lhRatio),
      formatter:a.txt + '{s|o}C',
      rich:{s:{fontSize:s, lineHeight:Math.round(s*supLh), fontWeight:'bold', fontFamily:FONT, color, verticalAlign:'top'}}},
    markLine:{silent:true, animation:false, symbol:['none','arrow'], symbolSize:[0,13], label:{show:false},
      lineStyle:{color, width:2, type:'solid'}, emphasis:{disabled:true},
      data:[
        [{coord:[a.t, a.v]}, {coord:[a.tip, a.v]}],
        [{coord:[a.t, a.v]}, {coord:[a.t, ymin], symbol:'none'}]
      ]}
  };
}
annB.forEach(a => series.push(ann(1, a, -0.1, 27, 0.65, 1.85, 1.0)));
annD.forEach(a => series.push(ann(3, a, 0.6, 31, 0.68, 1.0, 0.7)));

function legend(o) {
  return {
    show:true, orient:'vertical', left:o.left, top:o.top, icon:'rect', itemWidth:o.sym, itemHeight:o.sym,
    itemGap:o.gap, selectedMode:false, borderColor:'#000', borderWidth:2.5, padding:o.pad, backgroundColor:'#fff',
    textStyle:{color:'#000', fontSize:o.fs, fontWeight:'bold', fontFamily:FONT, lineHeight:o.lh, padding:[0,0,0,o.tpad]},
    data:o.names.map((n, i) => ({name:n, itemStyle:{color:o.colors[i]}}))
  };
}
const legends = [
  legend({left:341, top:20, sym:12, gap:9.6, pad:[4,7,4,10], fs:29.5, lh:30, tpad:19, names:namesA, colors:setA.map(s => s[1])}),
  legend({left:270, top:788, sym:14, gap:7.6, pad:[10,7,1,50], fs:34, lh:36, tpad:38, names:namesC, colors:setC.map(s => s[1])}),
  legend({left:746, top:1573, sym:8, gap:6, pad:[9,5,3,39], fs:27.5, lh:29, tpad:24, names:namesE, colors:setE.map(s => s[1])})
];

const panelLabels = [['a)',125,28],['b)',1034,24],['c)',127,796],['d)',1038,800],['e)',641,1580]].map(p => ({
  type:'text', left:p[1], top:p[2], silent:true, z:100,
  style:{text:p[0], font:'bold 44px ' + FONT, fill:'#000'}
}));

const chart = echarts.init(document.getElementById('c'), null, {renderer:'canvas'});
chart.setOption({
  backgroundColor:'#fff', animation:false,
  grid:grids, xAxis:xAxes, yAxis:yAxes, legend:legends, series, graphic:panelLabels
});
</script></body></html>
